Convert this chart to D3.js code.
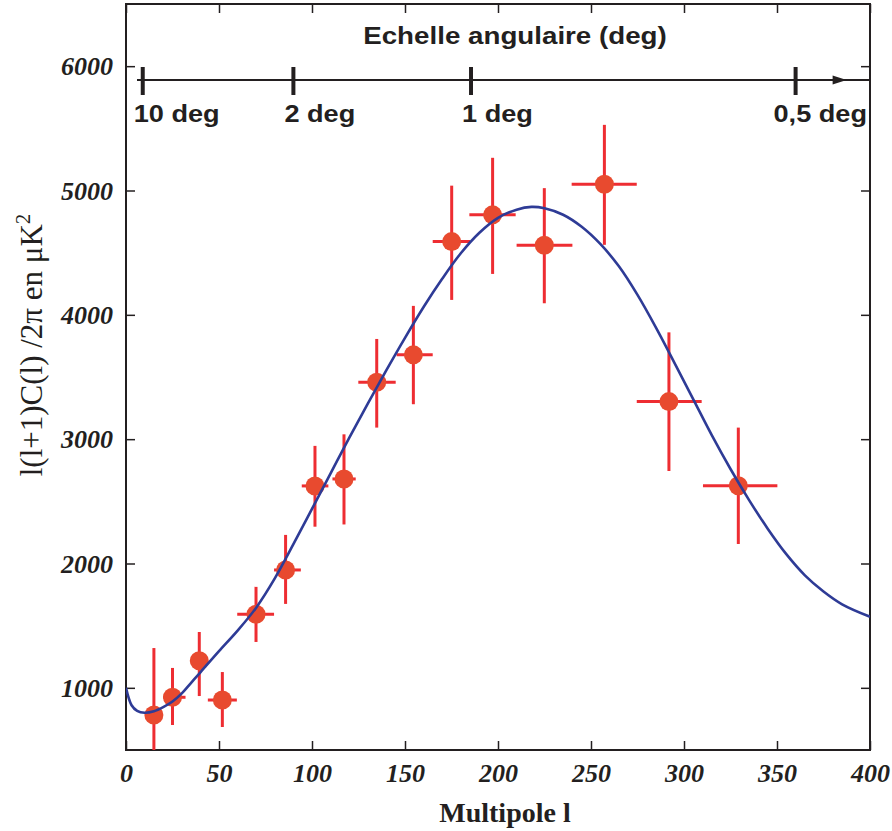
<!DOCTYPE html>
<html>
<head>
<meta charset="utf-8">
<script src="https://cdn.jsdelivr.net/npm/d3@7"></script>
<style>
  html, body { margin: 0; padding: 0; background: #fff; }
  svg { display: block; }
</style>
</head>
<body>
<svg id="chart" width="892" height="831"></svg>
<script>
// ---------- data ----------
const multipole = [15, 25, 39.4, 51.8, 69.9, 85.8, 101.6, 117.2, 134.8, 154.5, 175.1, 197.1, 224.9, 257.2, 291.9, 329.2];
const power     = [781, 924, 1218, 902, 1592, 1948, 2624, 2680, 3458, 3678, 4589, 4804, 4560, 5051, 3302, 2626];
const lLow      = [12, 20, 35, 44, 59.8, 79.6, 94.5, 111, 124.9, 145.5, 164.9, 184.6, 210, 239.6, 274.6, 310.2];
const lHigh     = [18, 32, 44, 59.6, 79.6, 94, 108.8, 123.5, 145, 164.9, 185, 209.5, 240, 274.6, 309.5, 350.2];
const powLow    = [240, 701, 934, 685, 1369, 1675, 2296, 2314, 3093, 3281, 4120, 4329, 4093, 4563, 2744, 2157];
const powHigh   = [1320, 1160, 1449, 1127, 1812, 2230, 2946, 3039, 3806, 4072, 5039, 5263, 5019, 5528, 3859, 3093];

const modelL = [0, 3, 6, 10, 15, 20, 25, 30, 35, 40, 50, 60, 70, 80, 90, 100, 110, 120, 130, 140, 150, 160, 170, 180, 190, 200, 210, 218, 225, 235, 245, 255, 265, 275, 285, 295, 305, 315, 325, 335, 345, 355, 365, 375, 385, 400];
const modelV = [1000, 860, 815, 800, 812, 845, 890, 955, 1040, 1125, 1295, 1460, 1645, 1880, 2155, 2440, 2725, 3010, 3285, 3555, 3815, 4063, 4290, 4495, 4660, 4780, 4846, 4868, 4857, 4805, 4708, 4570, 4390, 4160, 3895, 3610, 3320, 3030, 2760, 2510, 2280, 2075, 1905, 1775, 1672, 1572];

const xTicks = [0, 50, 100, 150, 200, 250, 300, 350, 400];
const yTicks = [1000, 2000, 3000, 4000, 5000, 6000];

const angleLabels = ["10 deg", "2 deg", "1 deg", "0,5 deg"];
const angleL      = [9, 90, 185.5, 360];
const angleTitle  = "Echelle angulaire (deg)";
const xTitle = "Multipole l";

// ---------- layout ----------
const L = 126, R = 870, T = 4, B = 750;
const svg = d3.select("#chart");
const x = d3.scaleLinear().domain([0, 400]).range([L, R]);
const y = d3.scaleLinear().domain([500, 6500]).range([B, T]);

const ink = "#231f20";
const serif = "'Liberation Serif', 'Times New Roman', serif";
const sans = "'Liberation Sans', Arial, sans-serif";

svg.append("defs").append("clipPath").attr("id", "clip")
  .append("rect").attr("x", L).attr("y", T).attr("width", R - L).attr("height", B - T);

// axes (ticks inward on all four sides)
const tickLen = 9;
function styleAxis(g) {
  g.select(".domain").remove();
  g.selectAll(".tick line").attr("stroke", ink).attr("stroke-width", 1.5);
}
svg.append("g").attr("transform", `translate(0,${B})`)
  .call(d3.axisBottom(x).tickValues(xTicks).tickSize(-tickLen).tickPadding(14).tickFormat(d3.format("d")))
  .call(styleAxis)
  .selectAll("text").attr("font-family", serif).attr("font-weight", "bold").attr("font-style", "italic")
  .attr("font-size", 26).attr("fill", ink).attr("dy", "0.71em").attr("y", 14);
svg.append("g").attr("transform", `translate(0,${T})`)
  .call(d3.axisTop(x).tickValues(xTicks).tickSize(-tickLen).tickFormat(""))
  .call(styleAxis);
svg.append("g").attr("transform", `translate(${L},0)`)
  .call(d3.axisLeft(y).tickValues(yTicks).tickSize(-tickLen).tickPadding(13).tickFormat(d3.format("d")))
  .call(styleAxis)
  .selectAll("text").attr("font-family", serif).attr("font-weight", "bold").attr("font-style", "italic")
  .attr("font-size", 26).attr("fill", ink).attr("dy", "0.33em");
svg.append("g").attr("transform", `translate(${R},0)`)
  .call(d3.axisRight(y).tickValues(yTicks).tickSize(-tickLen).tickFormat(""))
  .call(styleAxis);

// frame
svg.append("rect").attr("x", L).attr("y", T).attr("width", R - L).attr("height", B - T)
  .attr("fill", "none").attr("stroke", ink).attr("stroke-width", 2);

// angular scale
const axY = 80;
svg.append("line").attr("x1", 137).attr("x2", R).attr("y1", axY).attr("y2", axY)
  .attr("stroke", ink).attr("stroke-width", 2);
svg.append("path").attr("d", `M${x(360) + 37},${axY - 4.5} L${x(360) + 51},${axY} L${x(360) + 37},${axY + 4.5} Z`)
  .attr("fill", ink);
svg.selectAll(".atick").data(angleL).enter().append("line")
  .attr("x1", d => x(d)).attr("x2", d => x(d)).attr("y1", axY - 13).attr("y2", axY + 15)
  .attr("stroke", ink).attr("stroke-width", 4);

function stretch(sel, k) {
  sel.each(function () {
    const w = this.getComputedTextLength();
    d3.select(this).attr("textLength", w * k).attr("lengthAdjust", "spacingAndGlyphs");
  });
}
svg.selectAll(".alab").data(angleLabels).enter().append("text")
  .attr("x", (d, i) => i === angleLabels.length - 1 ? R - 3 : x(angleL[i]) - 9)
  .attr("y", 122)
  .attr("text-anchor", (d, i) => i === angleLabels.length - 1 ? "end" : "start")
  .attr("font-family", sans).attr("font-weight", "bold").attr("font-size", 24).attr("fill", ink)
  .text(d => d)
  .call(stretch, 1.13);

svg.append("text").attr("x", 515).attr("y", 44).attr("text-anchor", "middle")
  .attr("font-family", sans).attr("font-weight", "bold").attr("font-size", 23.5).attr("fill", ink)
  .text(angleTitle).call(stretch, 1.18);

// axis titles
svg.append("text").attr("x", 505).attr("y", 822).attr("text-anchor", "middle")
  .attr("font-family", serif).attr("font-weight", "bold").attr("font-size", 28).attr("fill", ink)
  .text(xTitle);

const yt = svg.append("text").attr("transform", "translate(42,345) rotate(-90)")
  .attr("text-anchor", "middle").attr("font-family", serif).attr("font-size", 31).attr("fill", ink);
yt.append("tspan").text("l(l+1)C(l) /2\u03C0 en \u03BCK");
yt.append("tspan").attr("dy", -12).attr("font-size", 21).text("2");

// data: error bars, points, model
const plot = svg.append("g").attr("clip-path", "url(#clip)");
const idx = d3.range(multipole.length);
const red = "#ee2d32";
plot.selectAll(".ev").data(idx).enter().append("line")
  .attr("x1", i => x(multipole[i])).attr("x2", i => x(multipole[i]))
  .attr("y1", i => y(powLow[i])).attr("y2", i => y(powHigh[i]))
  .attr("stroke", red).attr("stroke-width", 3);
plot.selectAll(".eh").data(idx).enter().append("line")
  .attr("x1", i => x(lLow[i])).attr("x2", i => x(lHigh[i]))
  .attr("y1", i => y(power[i])).attr("y2", i => y(power[i]))
  .attr("stroke", red).attr("stroke-width", 3);
plot.selectAll(".pt").data(idx).enter().append("circle")
  .attr("cx", i => x(multipole[i])).attr("cy", i => y(power[i])).attr("r", 9.5)
  .attr("fill", "#e84a2f");

const line = d3.line().x(i => x(modelL[i])).y(i => y(modelV[i])).curve(d3.curveCatmullRom.alpha(0.5));
plot.append("path").datum(d3.range(modelL.length)).attr("d", line)
  .attr("fill", "none").attr("stroke", "#2e3b96").attr("stroke-width", 2.6);
</script>
</body>
</html>
